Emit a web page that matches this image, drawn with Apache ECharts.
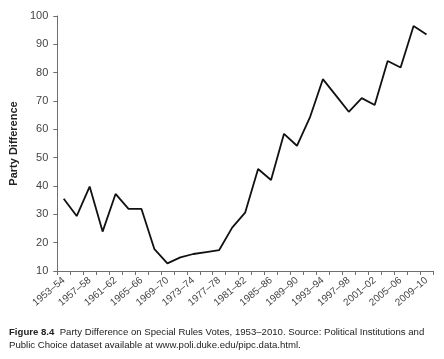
<!DOCTYPE html>
<html><head><meta charset="utf-8">
<script src="https://cdn.jsdelivr.net/npm/echarts@6/dist/echarts.min.js"></script>
<style>html,body{margin:0;padding:0;background:#fff}#c{width:444px;height:359px}</style>
</head><body><div id="c"></div>
<script>
var categories = ['1953–54','1955–56','1957–58','1959–60','1961–62','1963–64','1965–66','1967–68','1969–70','1971–72','1973–74','1975–76','1977–78','1979–80','1981–82','1983–84','1985–86','1987–88','1989–90','1991–92','1993–94','1995–96','1997–98','1999–00','2001–02','2003–04','2005–06','2007–08','2009–10'];
var partyDifference = [35.5,29.4,39.8,23.9,37.2,31.9,31.9,17.7,12.7,14.8,16.0,16.7,17.4,25.3,30.6,46.0,42.1,58.4,54.2,64.2,77.7,72.0,66.2,71.0,68.6,84.1,81.8,96.5,93.5];
var yTicks = [10,20,30,40,50,60,70,80,90,100];
var axisColor = '#6f6f6f';
var chart = echarts.init(document.getElementById('c'));
chart.setOption({
  animation:false,
  backgroundColor:'#fff',
  textStyle:{fontFamily:'Liberation Sans, Arial, sans-serif'},
  title:{
    left:4, top:321,
    text:'{b|Figure 8.4}  Party Difference on Special Rules Votes, 1953–2010. Source: Political Institutions and\nPublic Choice dataset available at www.poli.duke.edu/pipc.data.html.',
    textStyle:{
      fontFamily:'Liberation Sans, Arial, sans-serif',
      fontSize:9.6, fontWeight:'normal', color:'#222', lineHeight:13,
      rich:{b:{fontFamily:'Liberation Sans, Arial, sans-serif',fontSize:9.6,fontWeight:'bold',color:'#222'}}
    }
  },
  grid:{left:50, right:11, top:16, bottom:88, containLabel:false},
  xAxis:{
    type:'category', data:categories, boundaryGap:true,
    axisLine:{lineStyle:{color:axisColor,width:1}},
    axisTick:{show:true, interval:0, length:4, lineStyle:{color:axisColor}},
    axisLabel:{interval:1, rotate:40, fontSize:10, color:'#444', margin:8}
  },
  yAxis:{
    type:'value', min:10, max:100, interval:10,
    name:'Party Difference', nameLocation:'middle', nameGap:31, nameRotate:90,
    nameTextStyle:{fontSize:11, fontWeight:'bold', color:'#222'},
    axisLine:{show:true, lineStyle:{color:axisColor,width:1}},
    axisTick:{show:true, length:4, lineStyle:{color:axisColor}},
    axisLabel:{fontSize:11, color:'#444', margin:9,
      formatter:function(v){return yTicks.indexOf(v)>=0?String(v):'';}},
    splitLine:{show:false}
  },
  series:[{
    type:'line', data:partyDifference, showSymbol:false, symbol:'none',
    lineStyle:{color:'#111', width:1.8}
  }]
});
</script></body></html>
